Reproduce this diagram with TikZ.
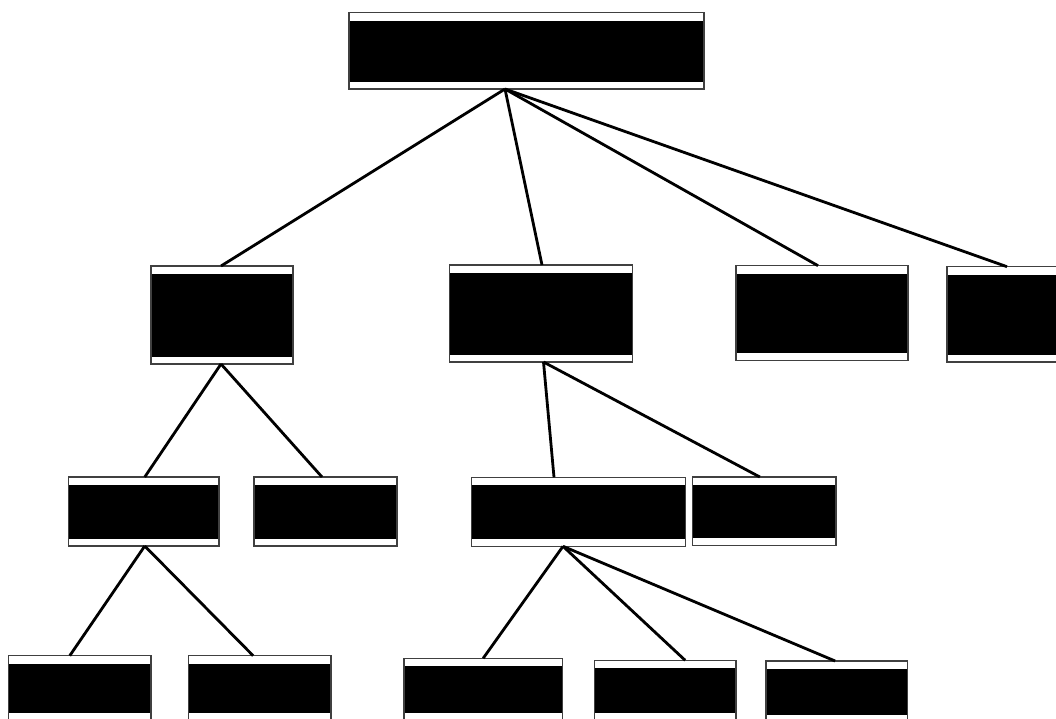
\documentclass[tikz,border=0pt]{standalone}
\begin{document}
\begin{tikzpicture}[x=1pt,y=-1pt,
  tbox/.style={draw=black!75, line width=1.2pt, fill=white, inner sep=0pt,
    outer sep=0pt, anchor=north west,
    path picture={\fill[black]
      ([yshift=-8pt]path picture bounding box.north west) rectangle
      ([yshift=7.5pt]path picture bounding box.south east);}},
  link/.style={line width=2.8pt, draw=black}]
\useasboundingbox (0,0) rectangle (1056,718);
\clip (0,0) rectangle (1056,718);

% boxes: top row
\node[tbox, minimum width=355pt, minimum height=76.5pt] (root) at (349,12.5) {};
% level 1
\node[tbox, minimum width=142pt, minimum height=98pt] (A) at (151,266) {};
\node[tbox, minimum width=183pt, minimum height=97pt] (B) at (449.5,265) {};
\node[tbox, minimum width=172pt, minimum height=95pt] (C) at (736,265.7) {};
\node[tbox, minimum width=172pt, minimum height=95.3pt] (D) at (947,266.7) {};
% level 2
\node[tbox, minimum width=150.5pt, minimum height=69pt] (E) at (68.5,477) {};
\node[tbox, minimum width=143pt, minimum height=69pt] (F) at (254,477) {};
\node[tbox, minimum width=214pt, minimum height=69pt] (G) at (471.5,477.3) {};
\node[tbox, minimum width=143.3pt, minimum height=68.7pt] (H) at (692.7,477) {};
% level 3
\node[tbox, minimum width=142.5pt, minimum height=65pt] (I) at (8.5,655.7) {};
\node[tbox, minimum width=142.3pt, minimum height=65pt] (J) at (188.7,655.7) {};
\node[tbox, minimum width=158.3pt, minimum height=62pt] (K) at (404,658.3) {};
\node[tbox, minimum width=141.7pt, minimum height=60.5pt] (L) at (594.3,660.3) {};
\node[tbox, minimum width=141.3pt, minimum height=61pt] (M) at (766,661) {};

% connectors
\draw[link] ([xshift=-21.5pt]root.south) -- ([xshift=-1pt]A.north);
\draw[link] ([xshift=-21.5pt]root.south) -- ([xshift=1pt]B.north);
\draw[link] ([xshift=-21.5pt]root.south) -- ([xshift=-4pt]C.north);
\draw[link] ([xshift=-21.5pt]root.south) -- ([xshift=-26pt]D.north);
\draw[link] ([xshift=-1pt]A.south) -- ([xshift=1pt]E.north);
\draw[link] ([xshift=-1pt]A.south) -- ([xshift=-3.5pt]F.north);
\draw[link] ([xshift=2.5pt]B.south) -- ([xshift=-24.5pt]G.north);
\draw[link] ([xshift=2.5pt]B.south) -- ([xshift=-4.5pt]H.north);
\draw[link] ([xshift=1pt]E.south) -- ([xshift=-10pt]I.north);
\draw[link] ([xshift=1pt]E.south) -- ([xshift=-6.7pt]J.north);
\draw[link] ([xshift=-15.5pt]G.south) -- (K.north);
\draw[link] ([xshift=-15.5pt]G.south) -- ([xshift=20pt]L.north);
\draw[link] ([xshift=-15.5pt]G.south) -- ([xshift=-1.5pt]M.north);
\end{tikzpicture}
\end{document}
